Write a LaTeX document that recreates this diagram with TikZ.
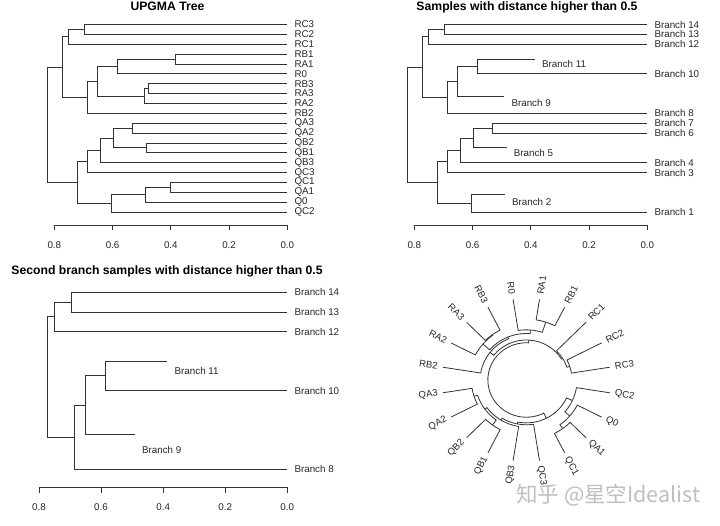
\documentclass[tikz,border=0pt]{standalone}
\usepackage{fontspec}
\setmainfont{Liberation Sans}
\newfontfamily\cjkfont{Noto Sans CJK SC}
\usepackage{tikz}

\newcommand\upgmaleaves{RC3,RC2,RC1,RB1,RA1,R0,RB3,RA3,RA2,RB2,QA3,QA2,QB2,QB1,QB3,QC3,QC1,QA1,Q0,QC2}
\newcommand\upgmainner{root/0.825/10.156,nR/0.773/4.3125,nRC/0.75/1.25,nRC23/0.697/0.5,nRB2/0.687/7.375,nRA/0.652/5.75,nR0/0.585/4.25,nRAB1/0.386/3.5,nRA2/0.491/7.25,nRAB3/0.477/6.5,nQ/0.72/16,nQC3/0.685/13.875,nQB3/0.643/12.75,nQAB/0.597/11.5,nQA/0.531/10.5,nQB/0.483/12.5,nQC2/0.605/18.125,nQ0/0.489/17.25,nQC1/0.403/16.5}
\newcommand\upgmaedges{root/nR,root/nQ,nR/nRC,nR/nRB2,nRC/nRC23,nRC/RC1,nRC23/RC3,nRC23/RC2,nRB2/nRA,nRB2/RB2,nRA/nR0,nRA/nRA2,nR0/nRAB1,nR0/R0,nRAB1/RB1,nRAB1/RA1,nRA2/nRAB3,nRA2/RA2,nRAB3/RB3,nRAB3/RA3,nQ/nQC3,nQ/nQC2,nQC3/nQB3,nQC3/QC3,nQB3/nQAB,nQB3/QB3,nQAB/nQA,nQAB/nQB,nQA/QA3,nQA/QA2,nQB/QB2,nQB/QB1,nQC2/nQ0,nQC2/QC2,nQ0/nQC1,nQ0/Q0,nQC1/QC1,nQC1/QA1}
\newcommand\cutedges{root/nR,root/nQ,nR/nRC,nR/nRB2,nRC/nRC23,nRC/B12,nRC23/B14,nRC23/B13,nRB2/nRA,nRB2/B8,nRA/nR0,nRA/nRA2,nR0/nRAB1,nR0/B10,nQ/nQC3,nQ/nQC2,nQC3/nQB3,nQC3/B3,nQB3/nQAB,nQB3/B4,nQAB/nQA,nQAB/nQB,nQA/B7,nQA/B6,nQC2/nQ0,nQC2/B1}

\begin{document}
\begin{tikzpicture}[x=1pt,y=-1pt,
		branch/.style={draw=black!80,line width=0.8pt},
		axisline/.style={draw=black!80,line width=0.8pt},
		leaflabel/.style={anchor=west,inner sep=0pt,xshift=7pt,text=black!85,font=\fontsize{9.8}{11}\selectfont},
		ticklabel/.style={anchor=base,inner sep=0pt,text=black!85,font=\fontsize{9.8}{11}\selectfont},
		plottitle/.style={anchor=base,inner sep=0pt,font=\bfseries\fontsize{12.2}{14}\selectfont},
		fanlabel/.style={inner sep=0pt,text=black!85,font=\fontsize{9.5}{11}\selectfont}]
	\path[fill=white,use as bounding box] (0,0) rectangle (720,525);

	% full tree
	\node[plottitle] (a-title) at (167.5,10.7) {UPGMA Tree};
	\begin{scope}[shift={(287.33,24.5)},x=-291.25pt,y=-9.87pt]
		\foreach \n/\h/\k in \upgmainner
			\coordinate (a-\n) at (\h,\k);
		\foreach \lf [count=\k from 0] in \upgmaleaves {
			\coordinate (a-\lf) at (0,\k);
			\node[leaflabel] (a-\lf-lab) at (a-\lf) {\lf};
		}
		\foreach \p/\c in \upgmaedges
			\draw[branch] (a-\p) |- (a-\c);
		\draw[axisline] (0.8,20.31) -- (0,20.31);
		\foreach \tk [count=\i] in {0.8,0.6,0.4,0.2,0.0} {
			\draw[axisline] (\tk,20.31) -- ++(0pt,-5.5pt);
			\path (\tk,20.31) ++(0pt,-23.3pt) node[ticklabel] (a-tick\i) {\tk};
		}
	\end{scope}

	% cut at 0.5
	\node[plottitle] (b-title) at (527,10.7) {Samples with distance higher than 0.5};
	\begin{scope}[shift={(647.33,24.5)},x=-291.25pt,y=-9.87pt]
		\foreach \n/\h/\k in \upgmainner
			\coordinate (b-\n) at (\h,\k);
		\foreach \nb/\k in {14/0,13/1,12/2,10/5,8/9,7/10,6/11,4/14,3/15,1/19} {
			\coordinate (b-B\nb) at (0,\k);
			\node[leaflabel] (b-B\nb-lab) at (b-B\nb) {Branch \nb};
		}
		\foreach \nb/\h/\k in {11/0.386/4,9/0.491/8,5/0.483/13,2/0.489/18}
			\node[leaflabel] (b-B\nb-lab) at (\h,\k) {Branch \nb};
		\foreach \p/\c in \cutedges
			\draw[branch] (b-\p) |- (b-\c);
		\draw[axisline] (0.8,20.31) -- (0,20.31);
		\foreach \tk [count=\i] in {0.8,0.6,0.4,0.2,0.0} {
			\draw[axisline] (\tk,20.31) -- ++(0pt,-5.5pt);
			\path (\tk,20.31) ++(0pt,-23.3pt) node[ticklabel] (b-tick\i) {\tk};
		}
	\end{scope}

	% second branch
	\node[plottitle] (c-title) at (167,274) {Second branch samples with distance higher than 0.5};
	\begin{scope}[shift={(287.3,292.3)},x=-310.4pt,y=-19.65pt]
		\foreach \n/\h/\k in \upgmainner
			\coordinate (c-\n) at (\h,\k);
		\foreach \nb/\k in {14/0,13/1,12/2,10/5,8/9} {
			\coordinate (c-B\nb) at (0,\k);
			\node[leaflabel] (c-B\nb-lab) at (c-B\nb) {Branch \nb};
		}
		\foreach \nb/\h/\k in {11/0.386/4,9/0.491/8}
			\node[leaflabel] (c-B\nb-lab) at (\h,\k) {Branch \nb};
		\foreach \p/\c in {nR/nRC,nR/nRB2,nRC/nRC23,nRC/B12,nRC23/B14,nRC23/B13,nRB2/nRA,nRB2/B8,nRA/nR0,nRA/nRA2,nR0/nRAB1,nR0/B10}
			\draw[branch] (c-\p) |- (c-\c);
		\draw[axisline] (0.8,9.92) -- (0,9.92);
		\foreach \tk [count=\i] in {0.8,0.6,0.4,0.2,0.0} {
			\draw[axisline] (\tk,9.92) -- ++(0pt,-6pt);
			\path (\tk,9.92) ++(0pt,-23.4pt) node[ticklabel] (c-tick\i) {\tk};
		}
	\end{scope}

	% fan
	\begin{scope}[shift={(526.3,380)},x=84.5pt,y=81.7pt]
		\foreach \n/\h/\k in \upgmainner {
			\pgfmathsetmacro\ang{9+18*\k}
			\pgfmathsetmacro\rad{1-0.66*\h}
			\expandafter\xdef\csname fanang\n\endcsname{\ang}
			\expandafter\xdef\csname fanrad\n\endcsname{\rad}
			\coordinate (f-\n) at (\ang:\rad);
		}
		\foreach \lf [count=\k from 0] in \upgmaleaves {
			\pgfmathsetmacro\ang{9+18*\k}
			\expandafter\xdef\csname fanang\lf\endcsname{\ang}
			\coordinate (f-\lf) at (\ang:1);
			\pgfmathparse{(\ang>90)&&(\ang<270)}
			\ifdim\pgfmathresult pt>0.5pt
				\pgfmathsetmacro\rot{\ang-180}
				\node[fanlabel,anchor=east,rotate=\rot] (f-\lf-lab) at (\ang:1.06) {\lf};
			\else
				\node[fanlabel,anchor=west,rotate=\ang] (f-\lf-lab) at (\ang:1.06) {\lf};
			\fi
		}
		\foreach \p/\c in \upgmaedges {
			\edef\fpa{\csname fanang\p\endcsname}
			\edef\fca{\csname fanang\c\endcsname}
			\edef\fpr{\csname fanrad\p\endcsname}
			\draw[branch] (f-\p) arc[start angle=\fpa,end angle=\fca,radius=\fpr] -- (f-\c);
		}
	\end{scope}

	\node[anchor=west,inner sep=0pt,text=black!25,font=\cjkfont\fontsize{21.5}{24}\selectfont] (wm) at (516,495) {知乎 @星空Idealist};
\end{tikzpicture}
\end{document}
